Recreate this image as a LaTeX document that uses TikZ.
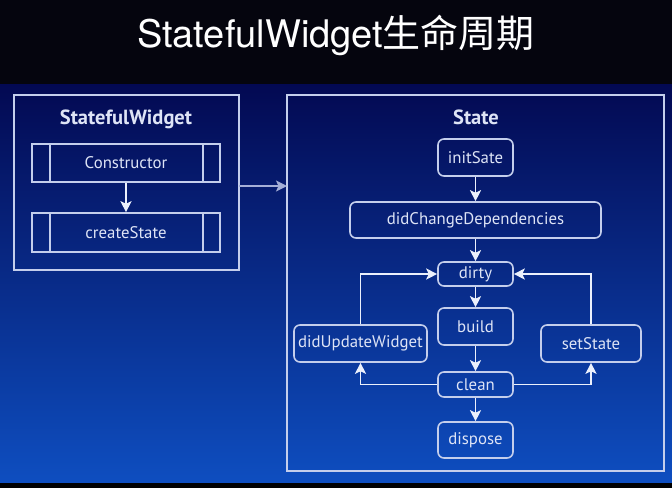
\documentclass[tikz,border=0pt]{standalone}
\usepackage{fontspec}
\setmainfont{PT Sans}
\newfontfamily\cjk{Noto Sans CJK SC}
\newfontfamily\titlefont{TeX Gyre Heros}
\usetikzlibrary{arrows.meta}
\definecolor{lineC}{RGB}{196,206,236}
\definecolor{txtC}{RGB}{222,228,246}
\definecolor{arrC}{RGB}{235,240,252}
\definecolor{arrGrey}{RGB}{165,175,215}
\definecolor{panelTop}{RGB}{3,9,82}
\definecolor{panelMid}{RGB}{6,28,138}
\definecolor{panelBot}{RGB}{14,78,192}
\definecolor{topBlack}{RGB}{5,5,14}
\tikzset{
  frame/.style={draw=lineC, line width=1.6pt},
  procbox/.style={draw=lineC, line width=1.6pt, minimum width=188pt, text=txtC, font=\fontsize{16.8}{19}\selectfont, inner sep=0pt},
  stbox/.style={draw=lineC, line width=1.6pt, rounded corners=6pt, text=txtC, font=\fontsize{16.8}{19}\selectfont, inner sep=0pt},
  arr/.style={draw=arrC, line width=1.6pt, -{Stealth[length=11pt,width=11pt,inset=2.5pt]}},
  heading/.style={text=txtC, font=\bfseries\fontsize{20.5}{23}\selectfont}
}
\begin{document}
\begin{tikzpicture}[x=1pt,y=-1pt]
\useasboundingbox (0,0) rectangle (672,488);
\fill[topBlack] (0,0) rectangle (672,84);
\shade[top color=panelTop, middle color=panelMid, bottom color=panelBot] (0,84) rectangle (672,483);
\fill[black] (0,483) rectangle (672,488);
\node[text=white, font=\fontsize{38}{42}\selectfont, anchor=base, inner sep=0pt] (title) at (336,47) {{\titlefont StatefulWidget}{\cjk 生命周期}};

% StatefulWidget box
\draw[frame] (14,95) rectangle (239,270);
\coordinate (swE) at (239,186);
\node[heading] (swt) at (126,119) {StatefulWidget};
\node[procbox, minimum height=38pt] (con) at (126,163) {Constructor};
\node[procbox, minimum height=39pt] (cs) at (126,232.5) {createState};
\foreach \n in {con,cs}{
  \draw[lineC, line width=1.6pt] ([xshift=19pt]\n.north west) -- ([xshift=19pt]\n.south west);
  \draw[lineC, line width=1.6pt] ([xshift=-18pt]\n.north east) -- ([xshift=-18pt]\n.south east);
}
\draw[arr] (con) -- (cs);

% State box
\draw[frame] (287,95) rectangle (664,471);
\coordinate (stW) at (287,186);
\draw[arr, draw=arrGrey, line width=1.4pt] (swE) -- (stW);
\node[heading] (stt) at (476,117) {State};
\node[stbox, minimum width=75pt, minimum height=37pt] (init) at (475.5,157.5) {initSate};
\node[stbox, minimum width=251pt, minimum height=36pt] (dcd) at (475.5,220) {didChangeDependencies};
\node[stbox, minimum width=75pt, minimum height=24pt] (dirty) at (475.5,274) {dirty};
\node[stbox, minimum width=75pt, minimum height=37pt] (build) at (475.5,326.5) {build};
\node[stbox, minimum width=75pt, minimum height=25pt] (clean) at (475.5,384.5) {clean};
\node[stbox, minimum width=75pt, minimum height=36pt] (disp) at (475.5,440) {dispose};
\node[stbox, minimum width=133pt, minimum height=37pt] (duw) at (360.5,343.5) {didUpdateWidget};
\node[stbox, minimum width=100pt, minimum height=37pt] (ss) at (591,343.5) {setState};

\draw[arr] (init) -- (dcd);
\draw[arr] (dcd) -- (dirty);
\draw[arr] (dirty) -- (build);
\draw[arr] (build) -- (clean);
\draw[arr] (clean) -- (disp);
\draw[arr] (duw.north) |- (dirty.west);
\draw[arr] (ss.north) |- (dirty.east);
\draw[arr] (clean.west) -| (duw.south);
\draw[arr] (clean.east) -| (ss.south);
\end{tikzpicture}
\end{document}
